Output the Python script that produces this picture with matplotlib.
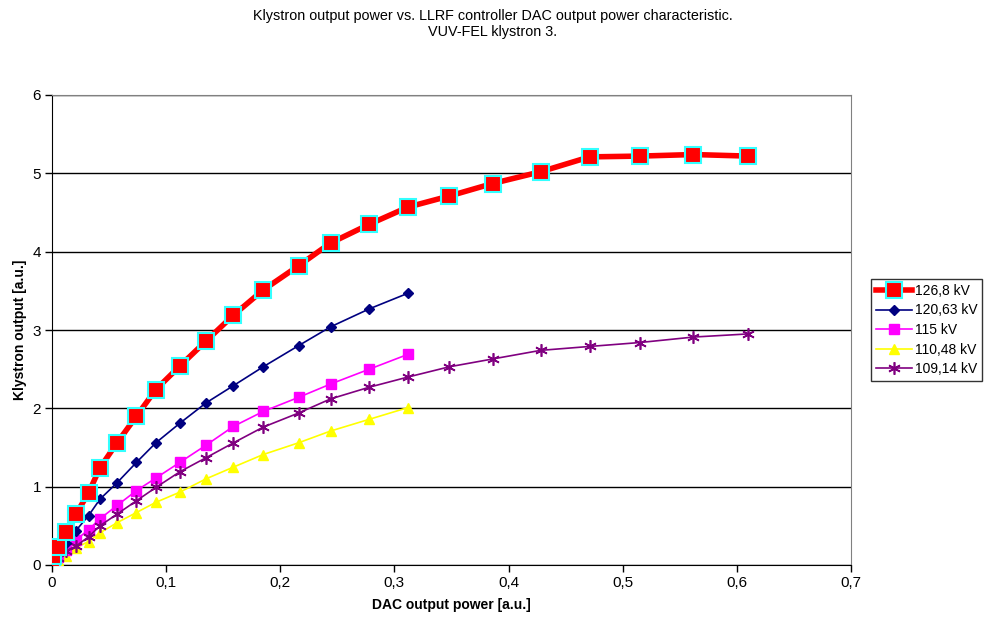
import matplotlib
matplotlib.use("Agg")
import matplotlib.pyplot as plt
from matplotlib.ticker import MultipleLocator, FuncFormatter

x_all = [0, 0.001, 0.005, 0.012, 0.021, 0.032, 0.042, 0.057, 0.074, 0.091, 0.112,
         0.135, 0.159, 0.185, 0.216, 0.244, 0.278, 0.312, 0.348, 0.386, 0.428,
         0.471, 0.515, 0.562, 0.610]

y_126_8 = [0.03, 0.11, 0.23, 0.42, 0.65, 0.92, 1.24, 1.56, 1.90, 2.24, 2.54, 2.86,
           3.19, 3.51, 3.82, 4.11, 4.35, 4.57, 4.71, 4.87, 5.02, 5.21, 5.22, 5.24, 5.22]
y_120_63 = [0.02, 0.07, 0.15, 0.28, 0.44, 0.63, 0.84, 1.05, 1.31, 1.56, 1.81, 2.07,
            2.29, 2.53, 2.80, 3.04, 3.27, 3.47]
y_115 = [0.02, 0.05, 0.10, 0.19, 0.32, 0.45, 0.59, 0.76, 0.95, 1.11, 1.31, 1.53,
         1.77, 1.96, 2.14, 2.31, 2.50, 2.69]
y_110_48 = [0.01, 0.03, 0.06, 0.12, 0.22, 0.30, 0.41, 0.54, 0.67, 0.80, 0.93, 1.10,
            1.25, 1.41, 1.56, 1.71, 1.86, 2.01]
y_109_14 = [0.02, 0.05, 0.09, 0.18, 0.24, 0.36, 0.50, 0.65, 0.82, 0.99, 1.19, 1.37,
            1.56, 1.76, 1.94, 2.12, 2.27, 2.40, 2.53, 2.63, 2.74, 2.79, 2.84, 2.91, 2.95]

labels = ["126,8 kV", "120,63 kV", "115 kV", "110,48 kV", "109,14 kV"]

plt.rcParams['font.family'] = ['Liberation Sans', 'DejaVu Sans']

fig = plt.figure(figsize=(9.85, 6.21), dpi=100)
ax = fig.add_axes([52/985, 1-565/621, (851-52)/985, (565-95)/621])

ax.plot(x_all, y_126_8, color='#FF0000', lw=4, marker='s', ms=11,
        mfc='#FF0000', mec='#33FFFF', mew=1.5, label=labels[0], zorder=6)
ax.plot(x_all[:len(y_120_63)], y_120_63, color='#000080', lw=1.2, marker='D', ms=5,
        mfc='#000080', mec='#000080', label=labels[1], zorder=5)
ax.plot(x_all[:len(y_115)], y_115, color='#FF00FF', lw=1.2, marker='s', ms=7,
        mfc='#FF00FF', mec='#FF00FF', label=labels[2], zorder=4)
ax.plot(x_all[:len(y_110_48)], y_110_48, color='#FFFF00', lw=1.2, marker='^', ms=7,
        mfc='#FFFF00', mec='#FFFF00', label=labels[3], zorder=3)
ax.plot(x_all, y_109_14, color='#800080', lw=1.2, marker=(6, 2, 0), ms=9,
        mfc='#800080', mec='#800080', mew=1.2, label=labels[4], zorder=4)

ax.set_xlim(0, 0.7)
ax.set_ylim(0, 6)
ax.xaxis.set_major_locator(MultipleLocator(0.1))
ax.yaxis.set_major_locator(MultipleLocator(1))
fmt = FuncFormatter(lambda v, p: ('%g' % round(v, 2)).replace('.', ','))
ax.xaxis.set_major_formatter(fmt)
ax.yaxis.set_major_formatter(fmt)
ax.grid(axis='y', color='black', lw=1)
ax.set_axisbelow(True)
for s in ['top', 'right']:
    ax.spines[s].set_color('#808080')
for s in ['left', 'bottom']:
    ax.spines[s].set_color('black')
ax.tick_params(direction='out', length=5, width=1, labelsize=11, pad=3)
ax.set_xlabel('DAC output power [a.u.]', fontsize=10, fontweight='bold', labelpad=6)
ax.set_ylabel('Klystron output [a.u.]', fontsize=10, fontweight='bold', labelpad=4)

fig.text(0.5, 1-24/621, 'Klystron output power vs. LLRF controller DAC output power characteristic.\nVUV-FEL klystron 3.',
         ha='center', va='center', fontsize=10.4, linespacing=1.2)

leg = ax.legend(loc='center left', bbox_to_anchor=(871/985, 1-330/621),
                bbox_transform=fig.transFigure, frameon=True, fancybox=False,
                edgecolor='black', fontsize=10, handlelength=2.6, borderpad=0.35,
                labelspacing=0.4, handletextpad=0.2, borderaxespad=0)
leg.get_frame().set_linewidth(1)

fig.savefig('out.png', dpi=100)
